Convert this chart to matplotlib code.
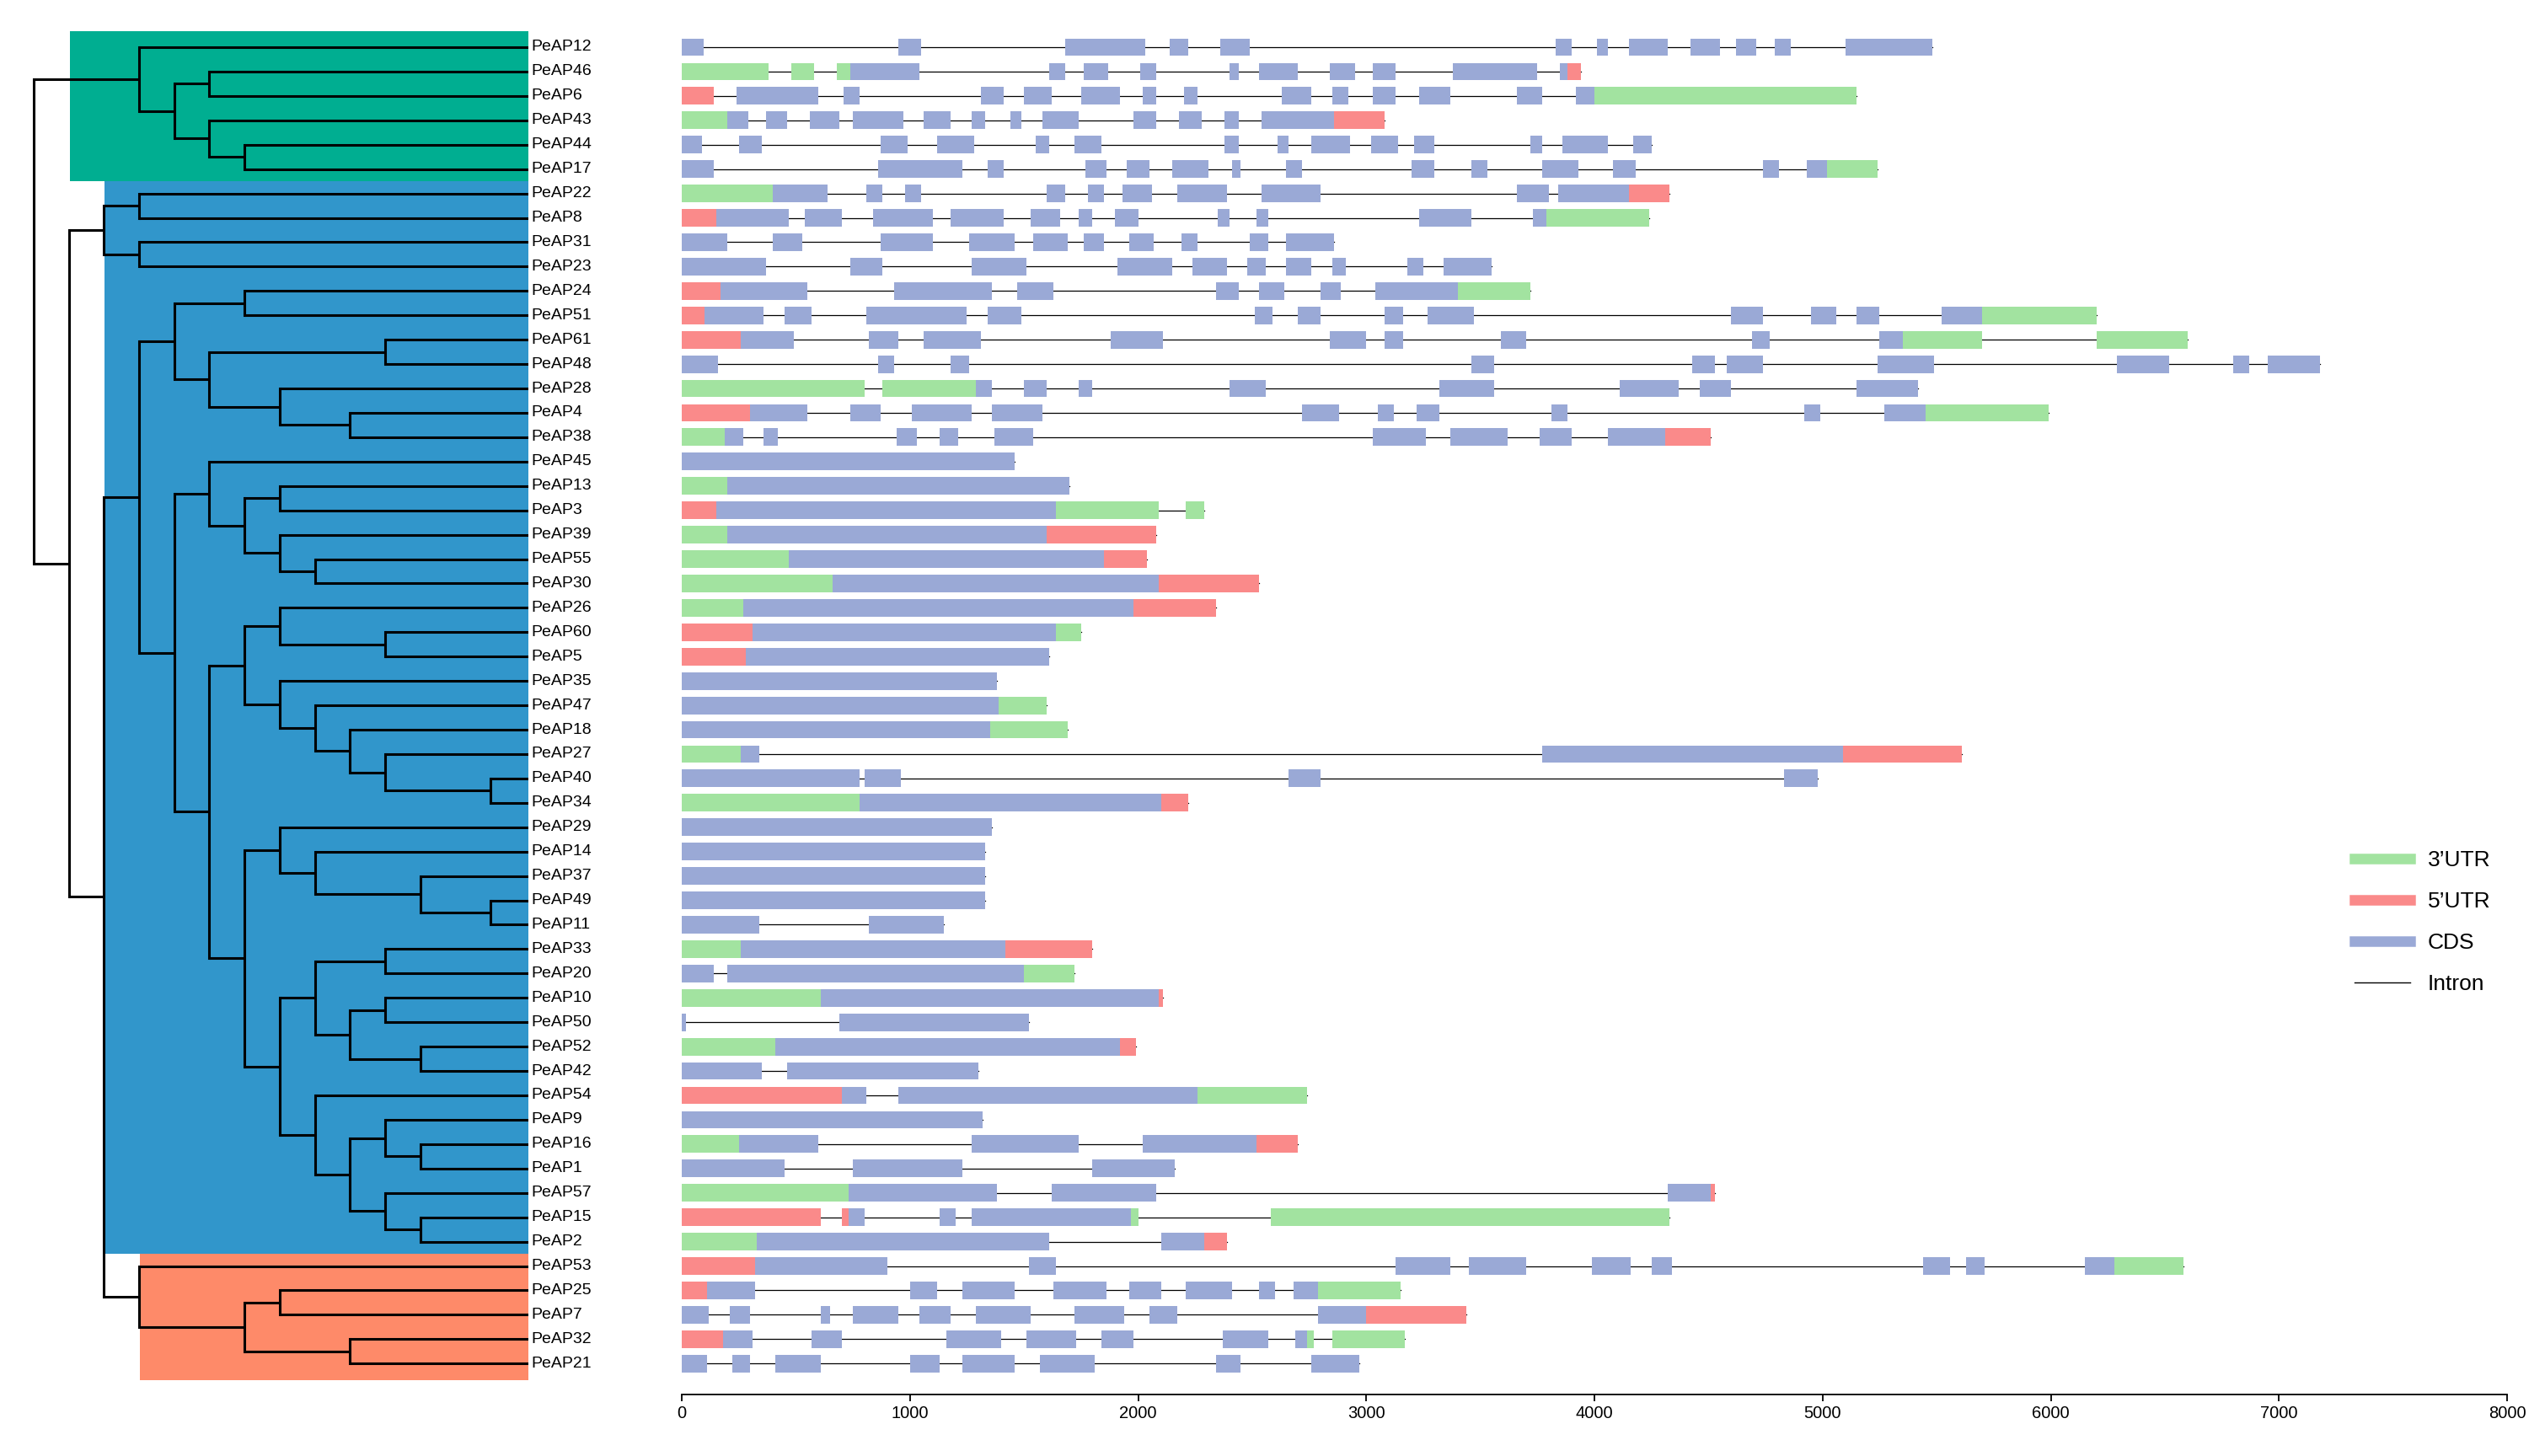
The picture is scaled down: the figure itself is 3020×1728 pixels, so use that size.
import matplotlib
matplotlib.use("Agg")
import matplotlib.pyplot as plt
from matplotlib.lines import Line2D
from matplotlib.patches import Rectangle

plt.rcParams['font.family'] = 'Liberation Sans'

genes = ['PeAP12','PeAP46','PeAP6','PeAP43','PeAP44','PeAP17','PeAP22','PeAP8','PeAP31','PeAP23',
         'PeAP24','PeAP51','PeAP61','PeAP48','PeAP28','PeAP4','PeAP38','PeAP45','PeAP13','PeAP3',
         'PeAP39','PeAP55','PeAP30','PeAP26','PeAP60','PeAP5','PeAP35','PeAP47','PeAP18','PeAP27',
         'PeAP40','PeAP34','PeAP29','PeAP14','PeAP37','PeAP49','PeAP11','PeAP33','PeAP20','PeAP10',
         'PeAP50','PeAP52','PeAP42','PeAP54','PeAP9','PeAP16','PeAP1','PeAP57','PeAP15','PeAP2',
         'PeAP53','PeAP25','PeAP7','PeAP32','PeAP21']

cds = {
 'PeAP12': [(0,95),(950,1050),(1680,2030),(2140,2220),(2360,2490),(3830,3900),(4010,4060),(4150,4320),(4420,4550),(4620,4710),(4790,4860),(5100,5480)],
 'PeAP46': [(740,1040),(1610,1680),(1760,1870),(2010,2080),(2400,2440),(2530,2700),(2840,2950),(3030,3130),(3380,3750),(3850,3880)],
 'PeAP6': [(240,600),(710,780),(1310,1410),(1500,1620),(1750,1920),(2020,2080),(2200,2260),(2630,2760),(2850,2920),(3030,3130),(3230,3370),(3660,3770),(3920,4000)],
 'PeAP43': [(200,290),(370,460),(560,690),(750,970),(1060,1180),(1270,1330),(1440,1490),(1580,1740),(1980,2080),(2180,2280),(2380,2440),(2540,2860)],
 'PeAP44': [(0,90),(250,350),(870,990),(1120,1280),(1550,1610),(1720,1840),(2380,2440),(2610,2660),(2760,2930),(3020,3140),(3210,3300),(3720,3770),(3860,4060),(4170,4250)],
 'PeAP17': [(0,140),(860,1230),(1340,1410),(1770,1860),(1950,2050),(2150,2310),(2410,2450),(2650,2720),(3200,3300),(3460,3530),(3770,3930),(4080,4180),(4740,4810),(4930,5020)],
 'PeAP22': [(400,640),(810,880),(980,1050),(1600,1680),(1780,1850),(1930,2060),(2170,2390),(2540,2800),(3660,3800),(3840,4150)],
 'PeAP8': [(150,470),(540,700),(840,1100),(1180,1410),(1530,1660),(1740,1800),(1900,2000),(2350,2400),(2520,2570),(3230,3460),(3730,3790)],
 'PeAP31': [(0,200),(400,530),(870,1100),(1260,1460),(1540,1690),(1760,1850),(1960,2070),(2190,2260),(2490,2570),(2650,2860)],
 'PeAP23': [(0,370),(740,880),(1270,1510),(1910,2150),(2240,2390),(2480,2560),(2650,2760),(2850,2910),(3180,3250),(3340,3550)],
 'PeAP24': [(170,550),(930,1360),(1470,1630),(2340,2440),(2530,2640),(2800,2890),(3040,3400)],
 'PeAP51': [(100,360),(450,570),(810,1250),(1340,1490),(2510,2590),(2700,2800),(3080,3160),(3270,3470),(4600,4740),(4950,5060),(5150,5250),(5520,5700)],
 'PeAP61': [(260,490),(820,950),(1060,1310),(1880,2110),(2840,3000),(3080,3160),(3590,3700),(4690,4770),(5250,5350)],
 'PeAP48': [(0,160),(860,930),(1180,1260),(3460,3560),(4430,4530),(4580,4740),(5240,5490),(6290,6520),(6800,6870),(6950,7180)],
 'PeAP28': [(1290,1360),(1500,1600),(1740,1800),(2400,2560),(3320,3560),(4110,4370),(4460,4600),(5150,5420)],
 'PeAP4': [(300,550),(740,870),(1010,1270),(1360,1580),(2720,2880),(3050,3120),(3220,3320),(3810,3880),(4920,4990),(5270,5450)],
 'PeAP38': [(190,270),(360,420),(940,1030),(1130,1210),(1370,1540),(3030,3260),(3370,3620),(3760,3900),(4060,4310)],
 'PeAP45': [(0,1460)],
 'PeAP13': [(200,1700)],
 'PeAP3': [(150,1640)],
 'PeAP39': [(200,1600)],
 'PeAP55': [(470,1850)],
 'PeAP30': [(660,2090)],
 'PeAP26': [(270,1980)],
 'PeAP60': [(310,1640)],
 'PeAP5': [(280,1610)],
 'PeAP35': [(0,1380)],
 'PeAP47': [(0,1390)],
 'PeAP18': [(0,1350)],
 'PeAP27': [(260,340),(3770,5090)],
 'PeAP40': [(0,780),(800,960),(2660,2800),(4830,4980)],
 'PeAP34': [(780,2100)],
 'PeAP29': [(0,1360)],
 'PeAP14': [(0,1330)],
 'PeAP37': [(0,1330)],
 'PeAP49': [(0,1330)],
 'PeAP11': [(0,340),(820,1150)],
 'PeAP33': [(260,1420)],
 'PeAP20': [(0,140),(200,1500)],
 'PeAP10': [(610,2090)],
 'PeAP50': [(0,20),(690,1520)],
 'PeAP52': [(410,1920)],
 'PeAP42': [(0,350),(460,1300)],
 'PeAP54': [(700,810),(950,2260)],
 'PeAP9': [(0,1320)],
 'PeAP16': [(250,600),(1270,1740),(2020,2520)],
 'PeAP1': [(0,450),(750,1230),(1800,2160)],
 'PeAP57': [(730,1380),(1620,2080),(4320,4510)],
 'PeAP15': [(730,800),(1130,1200),(1270,1970)],
 'PeAP2': [(330,1610),(2100,2290)],
 'PeAP53': [(320,900),(1520,1640),(3130,3370),(3450,3700),(3990,4160),(4250,4340),(5440,5560),(5630,5710),(6150,6280)],
 'PeAP25': [(110,320),(1000,1120),(1230,1460),(1630,1860),(1960,2100),(2210,2410),(2530,2600),(2680,2790)],
 'PeAP7': [(0,120),(210,300),(610,650),(750,950),(1040,1180),(1290,1530),(1720,1940),(2050,2170),(2790,3000)],
 'PeAP32': [(180,310),(570,700),(1160,1400),(1510,1730),(1840,1980),(2370,2570),(2690,2740)],
 'PeAP21': [(0,110),(220,300),(410,610),(1000,1130),(1230,1460),(1570,1810),(2340,2450),(2760,2970)],
}

utr3 = {
 'PeAP46': [(0,380),(480,580),(680,740)], 'PeAP6': [(4000,5150)], 'PeAP43': [(0,200)],
 'PeAP17': [(5020,5240)], 'PeAP22': [(0,400)], 'PeAP8': [(3790,4240)], 'PeAP24': [(3400,3720)],
 'PeAP51': [(5700,6200)], 'PeAP61': [(5350,5700),(6200,6600)], 'PeAP28': [(0,800),(880,1290)],
 'PeAP4': [(5450,5990)], 'PeAP38': [(0,190)], 'PeAP13': [(0,200)], 'PeAP3': [(1640,2090),(2210,2290)],
 'PeAP39': [(0,200)], 'PeAP55': [(0,470)], 'PeAP30': [(0,660)], 'PeAP26': [(0,270)],
 'PeAP60': [(1640,1750)], 'PeAP47': [(1390,1600)], 'PeAP18': [(1350,1690)], 'PeAP27': [(0,260)],
 'PeAP34': [(0,780)], 'PeAP33': [(0,260)], 'PeAP20': [(1500,1720)], 'PeAP10': [(0,610)],
 'PeAP52': [(0,410)], 'PeAP54': [(2260,2740)], 'PeAP16': [(0,250)], 'PeAP57': [(0,730)],
 'PeAP15': [(1970,2000),(2580,4330)], 'PeAP2': [(0,330)], 'PeAP53': [(6280,6580)],
 'PeAP25': [(2790,3150)], 'PeAP32': [(2740,2770),(2850,3170)],
}

utr5 = {
 'PeAP46': [(3880,3940)], 'PeAP6': [(0,140)], 'PeAP43': [(2860,3080)], 'PeAP22': [(4150,4330)],
 'PeAP8': [(0,150)], 'PeAP24': [(0,170)], 'PeAP51': [(0,100)], 'PeAP61': [(0,260)],
 'PeAP4': [(0,300)], 'PeAP38': [(4310,4510)], 'PeAP3': [(0,150)], 'PeAP39': [(1600,2080)],
 'PeAP55': [(1850,2040)], 'PeAP30': [(2090,2530)], 'PeAP26': [(1980,2340)], 'PeAP60': [(0,310)],
 'PeAP5': [(0,280)], 'PeAP27': [(5090,5610)], 'PeAP34': [(2100,2220)], 'PeAP33': [(1420,1800)],
 'PeAP10': [(2090,2110)], 'PeAP52': [(1920,1990)], 'PeAP54': [(0,700)], 'PeAP16': [(2520,2700)],
 'PeAP57': [(4510,4530)], 'PeAP15': [(0,610),(700,730)], 'PeAP2': [(2290,2390)],
 'PeAP53': [(0,320)], 'PeAP25': [(0,110)], 'PeAP7': [(3000,3440)], 'PeAP32': [(0,180)],
}

tree = (0,
 (3, 'PeAP12', (4, (5, 'PeAP46', 'PeAP6'), (5, 'PeAP43', (6, 'PeAP44', 'PeAP17')))),
 (1,
  (2, (3, 'PeAP22', 'PeAP8'), (3, 'PeAP31', 'PeAP23')),
  (2,
   (3,
    (4, (6, 'PeAP24', 'PeAP51'), (5, (10, 'PeAP61', 'PeAP48'), (7, 'PeAP28', (9, 'PeAP4', 'PeAP38')))),
    (4,
     (5, 'PeAP45', (6, (7, 'PeAP13', 'PeAP3'), (7, 'PeAP39', (8, 'PeAP55', 'PeAP30')))),
     (5,
      (6, (7, 'PeAP26', (10, 'PeAP60', 'PeAP5')),
          (7, 'PeAP35', (8, 'PeAP47', (9, 'PeAP18', (10, 'PeAP27', (13, 'PeAP40', 'PeAP34')))))),
      (6, (7, 'PeAP29', (8, 'PeAP14', (11, 'PeAP37', (13, 'PeAP49', 'PeAP11')))),
          (7, (8, (10, 'PeAP33', 'PeAP20'), (9, (10, 'PeAP10', 'PeAP50'), (11, 'PeAP52', 'PeAP42'))),
              (8, 'PeAP54', (9, (10, 'PeAP9', (11, 'PeAP16', 'PeAP1')), (10, 'PeAP57', (11, 'PeAP15', 'PeAP2'))))))))),
   (3, 'PeAP53', (6, (7, 'PeAP25', 'PeAP7'), (9, 'PeAP32', 'PeAP21'))))))

W, H = 3020, 1728
fig = plt.figure(figsize=(W/100, H/100), dpi=100)
top_px, bot_px = 30, 1655
row0, rstep = 56, 28.93
ylo = (bot_px - row0) / rstep
yhi = (top_px - row0) / rstep

def axes_px(x0, x1):
    return fig.add_axes([x0/W, 1 - bot_px/H, (x1-x0)/W, (bot_px-top_px)/H])

# tree axes
tax = axes_px(0, 627)
step = 41.7
tax.set_xlim(-40/step, 14.08)
tax.set_ylim(ylo, yhi)
tax.axis('off')
LEAF = 14.08
idx = {g: i for i, g in enumerate(genes)}

def bg(x0lvl, r0, r1, color):
    tax.add_patch(Rectangle((x0lvl, r0), LEAF - x0lvl, r1 - r0, color=color, zorder=0, lw=0))
bg(1.04, -0.65, 5.5, '#00ae91')
bg(2.02, 5.5, 49.5, '#3196cb')
bg(3.02, 49.5, 54.7, '#fe8a69')

lw = 2.2
def draw(node):
    if isinstance(node, str):
        return LEAF, idx[node]
    lvl, a, b = node
    ys = []
    for ch in (a, b):
        cx, cy = draw(ch)
        tax.plot([lvl, cx], [cy, cy], color='black', lw=lw, solid_capstyle='butt', zorder=2)
        ys.append(cy)
    tax.plot([lvl, lvl], [ys[0], ys[1]], color='black', lw=lw, solid_capstyle='projecting', zorder=2)
    return lvl, (ys[0] + ys[1]) / 2

draw(tree)
for g, i in idx.items():
    tax.text(LEAF + 0.08, i, g, va='center', ha='left', fontsize=14, clip_on=False)

gax = axes_px(809, 2975)
gax.set_xlim(0, 8000)
gax.set_ylim(ylo, yhi)
for s in ['top', 'right', 'left']:
    gax.spines[s].set_visible(False)
gax.spines['bottom'].set_linewidth(1.3)
gax.set_yticks([])
gax.set_xticks(range(0, 8001, 1000))
gax.tick_params(axis='x', labelsize=14.5, width=1.3, length=6)

C_CDS, C_3, C_5 = '#9aa9d6', '#a2e3a0', '#fa8a8a'
bh = 0.72
for g, i in idx.items():
    segs = cds.get(g, []) + utr3.get(g, []) + utr5.get(g, [])
    lo = min(s for s, e in segs); hi = max(e for s, e in segs)
    gax.plot([lo, hi], [i, i], color='black', lw=0.9, zorder=1)
    for d, c in ((cds, C_CDS), (utr3, C_3), (utr5, C_5)):
        for s, e in d.get(g, []):
            gax.add_patch(Rectangle((s, i - bh/2), e - s, bh, color=c, lw=0, zorder=2))

handles = [Line2D([], [], color=C_3, lw=9), Line2D([], [], color=C_5, lw=9),
           Line2D([], [], color=C_CDS, lw=9), Line2D([], [], color='black', lw=1)]
fig.legend(handles, ['3\u2019UTR', '5\u2019UTR', 'CDS', 'Intron'], loc='upper left',
           bbox_to_anchor=(2770/W, 1 - 985/H), frameon=False, fontsize=19,
           handlelength=2.5, labelspacing=0.95, handletextpad=0.8)

fig.savefig('out.png', dpi=100)
